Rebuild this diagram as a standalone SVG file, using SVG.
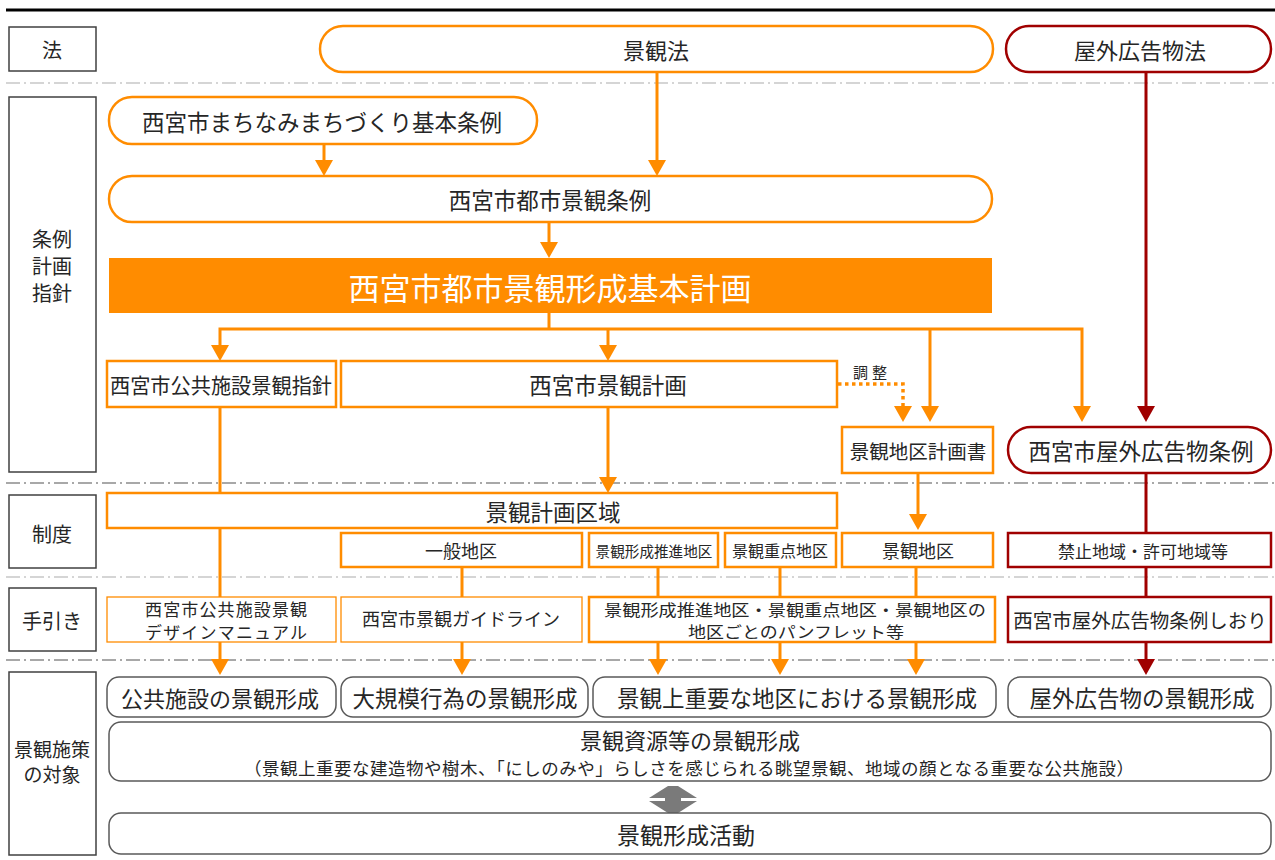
<svg xmlns="http://www.w3.org/2000/svg" width="1275" height="860" viewBox="0 0 1275 860">
<style>
text{font-family:"Noto Sans CJK JP","Noto Sans",sans-serif;fill:#262626;text-anchor:middle;dominant-baseline:central}
.lab{fill:#fff;stroke:#404040;stroke-width:1.5}
.o{fill:#fff;stroke:#FF8C00;stroke-width:2.5}
.ot{fill:#fff;stroke:#FF8C00;stroke-width:1.3}
.r{fill:#fff;stroke:#A00000;stroke-width:2.5}
.g{fill:#fff;stroke:#595959;stroke-width:1.5}
.sep{stroke-width:1.5;stroke-dasharray:14 4 2 4;fill:none}
.co{stroke:#FF8C00;stroke-width:3;fill:none}
.cr{stroke:#A00000;stroke-width:3;fill:none}
.ah{fill:#FF8C00}
.ahr{fill:#A00000}
</style>
<defs>
<path id="ah" d="M-9,-16 L9,-16 L0,0 Z"/>
</defs>
<rect width="1275" height="860" fill="#fff"/>
<line x1="6" y1="10" x2="1275" y2="10" stroke="#000" stroke-width="3"/>
<g id="separators">
<line class="sep" x1="6" y1="83" x2="1275" y2="83" stroke="#c8c8c8"/>
<line class="sep" x1="6" y1="483" x2="1275" y2="483" stroke="#8c8c8c"/>
<line class="sep" x1="6" y1="577" x2="1275" y2="577" stroke="#c8c8c8"/>
<line class="sep" x1="6" y1="660" x2="1275" y2="660" stroke="#8c8c8c"/>
</g>
<g id="row-labels">
<g id="lab-law"><rect class="lab" x="9" y="27" width="87" height="44"/><text x="52" y="49" font-size="20">法</text></g>
<g id="lab-ord"><rect class="lab" x="9" y="97" width="87" height="375"/><text x="52" y="238" font-size="20">条例</text><text x="52" y="265" font-size="20">計画</text><text x="52" y="292" font-size="20">指針</text></g>
<g id="lab-sys"><rect class="lab" x="9" y="495" width="87" height="73"/><text x="52" y="533" font-size="20">制度</text></g>
<g id="lab-guide"><rect class="lab" x="9" y="588" width="87" height="63"/><text x="52" y="620" font-size="20">手引き</text></g>
<g id="lab-target"><rect class="lab" x="9" y="672" width="87" height="183"/><text x="52" y="748" font-size="19">景観施策</text><text x="52" y="773" font-size="19">の対象</text></g>
</g>
<g id="connectors">
<line class="co" x1="324" y1="144" x2="324" y2="162"/><use href="#ah" class="ah" x="324" y="176"/>
<line class="co" x1="657" y1="72" x2="657" y2="162"/><use href="#ah" class="ah" x="657" y="176"/>
<line class="co" x1="549" y1="222" x2="549" y2="244"/><use href="#ah" class="ah" x="549" y="258"/>
<polyline class="co" points="549,313 549,329"/>
<polyline class="co" points="220,346 220,329 1082,329 1082,408"/>
<use href="#ah" class="ah" x="220" y="361"/>
<line class="co" x1="608" y1="329" x2="608" y2="346"/><use href="#ah" class="ah" x="608" y="361"/>
<line class="co" x1="930" y1="329" x2="930" y2="408"/><use href="#ah" class="ah" x="930" y="422"/>
<use href="#ah" class="ah" x="1082" y="422"/>
<line class="cr" x1="1146" y1="72" x2="1146" y2="408"/><use href="#ah" class="ahr" x="1146" y="422"/>
<polyline points="838,384 903,384 903,408" fill="none" stroke="#FF8C00" stroke-width="3.5" stroke-dasharray="3.5 3.5"/>
<use href="#ah" class="ah" x="903" y="422"/>
<line class="co" x1="220" y1="407" x2="220" y2="662"/><use href="#ah" class="ah" x="220" y="675"/>
<line class="co" x1="608" y1="407" x2="608" y2="479"/><use href="#ah" class="ah" x="608" y="493"/>
<line class="co" x1="918" y1="473" x2="918" y2="516"/><use href="#ah" class="ah" x="918" y="530"/>
<line class="co" x1="462" y1="567" x2="462" y2="662"/><use href="#ah" class="ah" x="462" y="675"/>
<line class="co" x1="658" y1="567" x2="658" y2="662"/><use href="#ah" class="ah" x="658" y="675"/>
<line class="co" x1="780" y1="567" x2="780" y2="662"/><use href="#ah" class="ah" x="780" y="675"/>
<line class="co" x1="916" y1="567" x2="916" y2="662"/><use href="#ah" class="ah" x="916" y="675"/>
<line class="cr" x1="1146" y1="473" x2="1146" y2="662"/><use href="#ah" class="ahr" x="1146" y="675"/>
<polygon points="668,786 678,786 697,798 681,798 681,801 697,801 678,813 668,813 649,801 665,801 665,798 649,798" fill="#7a7a7a"/>
</g>
<text x="872" y="371" font-size="15" letter-spacing="4">調整</text>
<g id="n-keikanho"><rect class="o" x="320" y="26" width="673" height="46" rx="23"/><text x="656" y="49" font-size="22">景観法</text></g>
<g id="n-okugaiho"><rect class="r" x="1006" y="26" width="265" height="46" rx="23"/><text x="1140" y="49" font-size="22">屋外広告物法</text></g>
<g id="n-machinami"><rect class="o" x="109" y="97" width="428" height="47" rx="23"/><text x="322" y="121" font-size="22.5">西宮市まちなみまちづくり基本条例</text></g>
<g id="n-jorei"><rect class="o" x="109" y="176" width="883" height="46" rx="23"/><text x="550" y="199" font-size="22.5">西宮市都市景観条例</text></g>
<g id="n-kihon"><rect x="109" y="258" width="883" height="55" fill="#FF8C00"/><text x="550" y="286" font-size="31" style="fill:#fff">西宮市都市景観形成基本計画</text></g>
<g id="n-kokyo-shishin"><rect class="o" x="107" y="361" width="229" height="46"/><text x="221" y="384" font-size="21" textLength="222" lengthAdjust="spacingAndGlyphs">西宮市公共施設景観指針</text></g>
<g id="n-keikaku"><rect class="o" x="341" y="361" width="496" height="46"/><text x="608" y="384" font-size="22.5">西宮市景観計画</text></g>
<g id="n-chiku-keikaku"><rect class="o" x="842" y="427" width="151" height="46"/><text x="918" y="450" font-size="19.5">景観地区計画書</text></g>
<g id="n-okugai-jorei"><rect class="r" x="1008" y="427" width="263" height="46" rx="23"/><text x="1141" y="450" font-size="22.5">西宮市屋外広告物条例</text></g>
<g id="n-kuiki"><rect class="o" x="107" y="493" width="730" height="35"/><text x="553" y="511" font-size="22.5">景観計画区域</text></g>
<g id="n-ippan"><rect class="o" x="341" y="533" width="241" height="34"/><text x="461" y="550" font-size="18">一般地区</text></g>
<g id="n-suishin"><rect class="o" x="589" y="533" width="129" height="34"/><text x="654" y="550" font-size="14.6">景観形成推進地区</text></g>
<g id="n-juten"><rect class="o" x="725" y="533" width="111" height="34"/><text x="780" y="550" font-size="16">景観重点地区</text></g>
<g id="n-chiku"><rect class="o" x="842" y="533" width="151" height="34"/><text x="918" y="550" font-size="18">景観地区</text></g>
<g id="n-kinshi"><rect class="r" x="1008" y="533" width="263" height="34"/><text x="1143" y="550" font-size="17">禁止地域・許可地域等</text></g>
<g id="n-manual"><rect class="ot" x="107" y="597" width="229" height="45"/><text x="226" y="608" font-size="17" textLength="162">西宮市公共施設景観</text><text x="226" y="631" font-size="17" textLength="162">デザインマニュアル</text></g>
<g id="n-guideline"><rect class="ot" x="341" y="597" width="241" height="45"/><text x="461" y="618" font-size="18">西宮市景観ガイドライン</text></g>
<g id="n-pamphlet"><rect class="o" x="589" y="597" width="406" height="45"/><text x="795" y="608.5" font-size="16.2" textLength="382" lengthAdjust="spacingAndGlyphs">景観形成推進地区・景観重点地区・景観地区の</text><text x="796" y="630.5" font-size="16.2" textLength="216" lengthAdjust="spacingAndGlyphs">地区ごとのパンフレット等</text></g>
<g id="n-shiori"><rect class="r" x="1008" y="597" width="263" height="45"/><text x="1140" y="619" font-size="19.5">西宮市屋外広告物条例しおり</text></g>
<g id="n-t-kokyo"><rect class="g" x="107" y="677" width="229" height="40" rx="12"/><text x="220" y="697" font-size="22">公共施設の景観形成</text></g>
<g id="n-t-daikibo"><rect class="g" x="341" y="677" width="247" height="40" rx="12"/><text x="465" y="697" font-size="22.5">大規模行為の景観形成</text></g>
<g id="n-t-juyo"><rect class="g" x="593" y="677" width="403" height="40" rx="12"/><text x="797" y="697" font-size="22.5">景観上重要な地区における景観形成</text></g>
<g id="n-t-okugai"><rect class="g" x="1008" y="677" width="263" height="40" rx="12"/><text x="1142" y="697" font-size="22.5">屋外広告物の景観形成</text></g>
<g id="n-t-shigen"><rect class="g" x="109" y="722" width="1162" height="59" rx="12"/><text x="690" y="739" font-size="22">景観資源等の景観形成</text><text x="689" y="767" font-size="17.5" textLength="890">（景観上重要な建造物や樹木、「にしのみや」らしさを感じられる眺望景観、地域の顔となる重要な公共施設）</text></g>
<g id="n-katsudo"><rect class="g" x="109" y="813" width="1162" height="41" rx="12"/><text x="686" y="834" font-size="23">景観形成活動</text></g>
</svg>
